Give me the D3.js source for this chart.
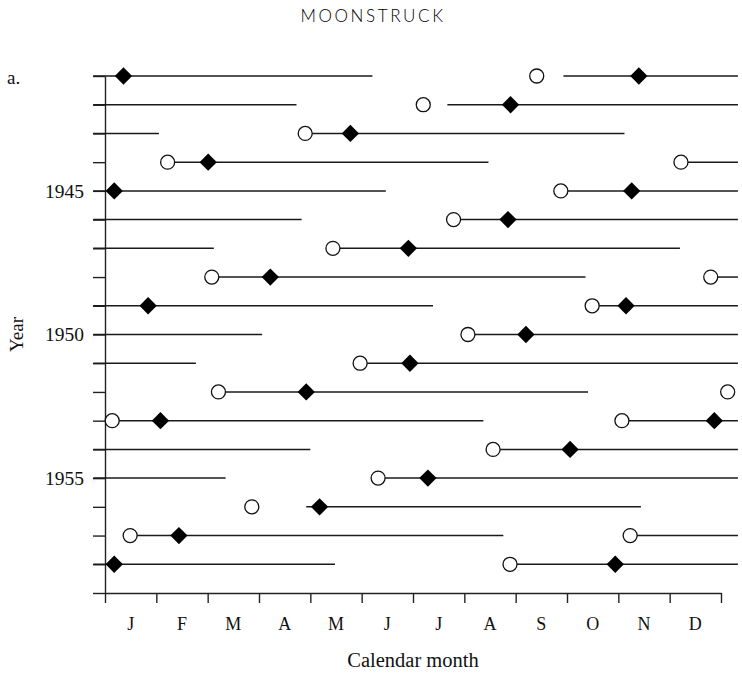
<!DOCTYPE html>
<html>
<head>
<meta charset="utf-8">
<script src="https://cdn.jsdelivr.net/npm/d3@7"></script>
<style>
  body { margin: 0; background: #fff; }
  svg { display: block; }
  .axis path, .axis line { stroke: #222; stroke-width: 1.4; }
  .axis text { font-family: "Liberation Serif", "DejaVu Serif", serif; fill: #111; }
</style>
</head>
<body>
<div id="chart"></div>
<script>
// rows are years; positions are in months from 1 January (0..12)
const years = d3.range(1941, 1959);
const yearLabels = [1945, 1950, 1955];
const monthLabels = ["J", "F", "M", "A", "M", "J", "J", "A", "S", "O", "N", "D"];

const segments = [
  [[-0.23, 5.21], [8.93, 12.33]],
  [[-0.23, 3.73], [6.67, 12.33]],
  [[-0.23, 1.05], [3.90, 10.12]],
  [[1.22, 7.47], [11.22, 12.33]],
  [[-0.23, 5.47], [8.88, 12.33]],
  [[-0.23, 3.83], [6.79, 12.33]],
  [[-0.23, 2.12], [4.44, 11.20]],
  [[2.08, 9.36], [11.80, 12.33]],
  [[-0.23, 6.39], [9.49, 12.33]],
  [[-0.23, 3.06], [7.07, 12.33]],
  [[-0.23, 1.77], [4.97, 12.33]],
  [[2.21, 9.41]],
  [[0.14, 7.37], [10.07, 12.33]],
  [[-0.23, 4.00], [7.56, 12.33]],
  [[-0.23, 2.35], [5.32, 12.33]],
  [[3.92, 10.44]],
  [[0.49, 7.76], [10.23, 12.33]],
  [[-0.23, 4.48], [7.89, 12.33]]
];

const circles = [
  [8.41], [6.20], [3.90], [1.22, 11.22], [8.88], [6.79], [4.44], [2.08, 11.80],
  [9.49], [7.07], [4.97], [2.21, 12.13], [0.14, 10.07], [7.56], [5.32], [2.86],
  [0.49, 10.23], [7.89]
];

const diamonds = [
  [0.36, 10.40], [7.90], [4.78], [2.01], [0.18, 10.26], [7.85], [5.91], [3.22],
  [0.84, 10.15], [8.20], [5.94], [3.92], [1.08, 11.87], [9.06], [6.29], [4.18],
  [1.44], [0.18, 9.94]
];

const width = 742, height = 675;

const svg = d3.select("#chart").append("svg")
  .attr("width", width)
  .attr("height", height);

const x = d3.scaleLinear().domain([0, 12]).range([105, 721]);
const y = d3.scaleLinear().domain([1941, 1959]).range([76, 593]);

// title and panel letter
svg.append("text")
  .attr("x", 373)
  .attr("y", 22)
  .attr("text-anchor", "middle")
  .attr("font-family", "Lato, 'Open Sans', sans-serif")
  .attr("font-weight", 300)
  .attr("font-size", 17)
  .attr("letter-spacing", 2.6)
  .attr("fill", "#000")
  .text("MOONSTRUCK");

svg.append("text")
  .attr("x", 7)
  .attr("y", 84)
  .attr("font-family", "Liberation Serif, serif")
  .attr("font-size", 19)
  .attr("fill", "#111")
  .text("a.");

// axes
const yAxis = svg.append("g")
  .attr("class", "axis")
  .attr("transform", `translate(${x(0)},0)`)
  .call(d3.axisLeft(y)
    .tickValues(d3.range(1941, 1960))
    .tickSize(12)
    .tickSizeOuter(0)
    .tickPadding(9)
    .tickFormat(d => yearLabels.includes(d) ? d : ""));
yAxis.selectAll("text").attr("font-size", 19.5);

svg.append("g")
  .attr("class", "axis")
  .attr("transform", `translate(0,${y(1959)})`)
  .call(d3.axisBottom(x)
    .tickValues(d3.range(0, 13))
    .tickSize(10)
    .tickSizeOuter(0)
    .tickFormat(""));

svg.append("g")
  .selectAll("text")
  .data(monthLabels)
  .join("text")
  .attr("x", (d, i) => x(i + 0.5))
  .attr("y", 630)
  .attr("text-anchor", "middle")
  .attr("font-family", "Liberation Serif, serif")
  .attr("font-size", 18)
  .attr("fill", "#111")
  .text(d => d);

svg.append("text")
  .attr("x", x(6))
  .attr("y", 667)
  .attr("text-anchor", "middle")
  .attr("font-family", "Liberation Serif, serif")
  .attr("font-size", 20.5)
  .attr("fill", "#111")
  .text("Calendar month");

svg.append("text")
  .attr("transform", `translate(23,${y(1950)}) rotate(-90)`)
  .attr("text-anchor", "middle")
  .attr("font-family", "Liberation Serif, serif")
  .attr("font-size", 19)
  .attr("fill", "#111")
  .text("Year");

// marks
const segData = segments.flatMap((row, i) => row.map(s => ({ year: years[i], s })));
const circleData = circles.flatMap((row, i) => row.map(m => ({ year: years[i], m })));
const diamondData = diamonds.flatMap((row, i) => row.map(m => ({ year: years[i], m })));

svg.append("g")
  .selectAll("line")
  .data(segData)
  .join("line")
  .attr("x1", d => x(d.s[0]))
  .attr("x2", d => x(d.s[1]))
  .attr("y1", d => y(d.year))
  .attr("y2", d => y(d.year))
  .attr("stroke", "#1a1a1a")
  .attr("stroke-width", 1.5);

svg.append("g")
  .selectAll("circle")
  .data(circleData)
  .join("circle")
  .attr("cx", d => x(d.m))
  .attr("cy", d => y(d.year))
  .attr("r", 7)
  .attr("fill", "#fff")
  .attr("stroke", "#111")
  .attr("stroke-width", 1.3);

const diamond = d3.symbol(d3.symbolSquare, 150);
svg.append("g")
  .selectAll("path")
  .data(diamondData)
  .join("path")
  .attr("d", diamond)
  .attr("transform", d => `translate(${x(d.m)},${y(d.year)}) rotate(45)`)
  .attr("fill", "#000");
</script>
</body>
</html>
